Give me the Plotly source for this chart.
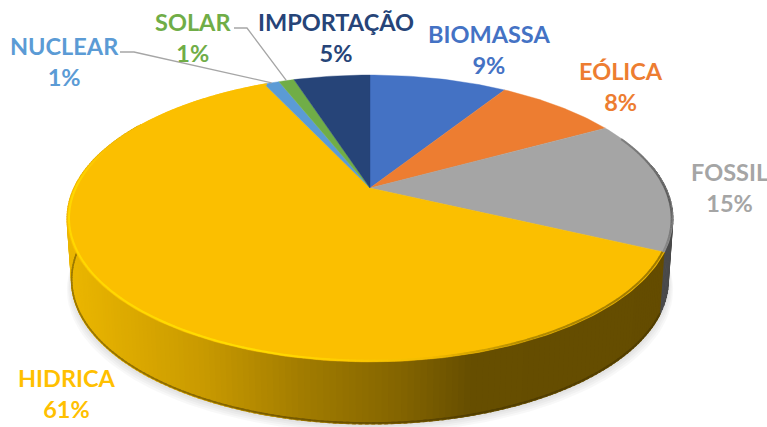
import numpy as np
import plotly.graph_objects as go

# ---- data ----
categories = ["BIOMASSA", "EÓLICA", "FOSSIL", "HIDRICA", "NUCLEAR", "SOLAR", "IMPORTAÇÃO"]
values = [9, 8, 15, 61, 1, 1, 5]
colors = ["#4472C4", "#ED7D31", "#A5A5A5", "#FBBF00", "#5B9BD5", "#70AD47", "#264478"]
label_colors = ["#4472C4", "#ED7D31", "#A5A5A5", "#FFC000", "#5B9BD5", "#70AD47", "#264478"]
label_centers = [(489, 49), (621, 86), (729, 187), (67, 393), (64, 61), (193, 37), (336, 37)]
FONT = "Lato"
FONT_SIZE = 23.5

# ---- pie geometry: a perspective projection of a disc ----
CX, CY = 370.0, 188.0
AX, DY, K = 296.0, 137.0, 0.2125
DEPTH = 62.0
BOTTOM_SCALE = 0.985


def top(theta_deg, r=1.0):
    t = np.radians(np.asarray(theta_deg, dtype=float))
    u, v = r * np.sin(t), r * np.cos(t)
    w = 1 + K * v
    return CX + AX * u / w, CY - DY * v / w


def bottom(theta_deg, extra=0.0):
    x, y = top(theta_deg)
    return CX + (x - CX) * BOTTOM_SCALE, y + DEPTH + extra


def mix(c1, c2, f):
    a = np.array([int(c1[i:i + 2], 16) for i in (1, 3, 5)], float)
    b = np.array([int(c2[i:i + 2], 16) for i in (1, 3, 5)], float)
    m = a + (b - a) * float(np.clip(f, 0, 1))
    return "#%02x%02x%02x" % tuple(int(round(n)) for n in m)


def ramp(stops, x):
    xs = [s[0] for s in stops]
    i = int(np.clip(np.searchsorted(xs, x) - 1, 0, len(stops) - 2))
    return mix(stops[i][1], stops[i + 1][1], (x - xs[i]) / (xs[i + 1] - xs[i]))


fig = go.Figure()


def poly(x, y, color, lw=1.0):
    fig.add_trace(go.Scatter(x=list(x), y=list(y), mode="lines", fill="toself", fillcolor=color,
                             line=dict(color=color, width=lw), hoverinfo="skip", showlegend=False))


def line(x, y, color, width):
    fig.add_trace(go.Scatter(x=list(x), y=list(y), mode="lines", line=dict(color=color, width=width),
                             hoverinfo="skip", showlegend=False))


edges = 360 * np.cumsum([0] + values) / sum(values)
hid_start, hid_end = edges[3], edges[4]

# soft shadow under the wall
all_t = np.linspace(0, 360, 181)
for off, sc in [(9, 1.016), (7, 1.012), (5, 1.008), (3, 1.004)]:
    bx, by = bottom(all_t, off)
    poly(CX + (bx - CX) * sc, by, "rgba(0,0,0,0.028)", 0)

# side wall, fossil part
wall_stops = [(60, "#EDB800"), (130, "#DBA900"), (200, "#C99A00"), (300, "#A27C00"),
              (400, "#836400"), (470, "#664E00"), (800, "#634B00")]
for a in np.arange(80, hid_start, 1.5):
    t = [a, a + 2.0]
    tx, ty = top(t)
    bx, by = bottom(t)
    poly(np.r_[tx, bx[::-1]], np.r_[ty, by[::-1]], "#4A4A4A")
# side wall, hidrica part
wall_angles = np.arange(hid_start, 300, 1.0)
for a in wall_angles:
    t = [a, a + 1.5]
    tx, ty = top(t)
    bx, by = bottom(t)
    c = ramp(wall_stops, float(tx.mean()))
    poly(np.r_[tx, bx[::-1]], np.r_[ty, by[::-1]], c, 1.2)
for a in wall_angles:
    t = [a, a + 1.5]
    tx = top(t)[0]
    ex, ey = bottom(t, -1)
    line(ex, ey, mix(ramp(wall_stops, float(tx.mean())), "#3A2C00", 0.45), 1.6)

# top face slices
for i, c in enumerate(colors):
    t = np.arange(edges[i], edges[i + 1] + 0.5, 1.0)
    t[-1] = edges[i + 1]
    ex, ey = top(t)
    poly(np.r_[CX, ex, CX], np.r_[CY, ey, CY], c, 0.4)

# bevel along the rim, fading out on the back half of the disc
rim_stops = [(60, "#FFD800"), (250, "#FFDD00"), (330, "#FFD000"), (430, "#F4BB00"),
             (520, "#B58D00"), (680, "#9A7600")]
for a in np.arange(hid_start, hid_end, 1.0):
    t = [a, a + 1.1]
    tx, ty = top(t, 0.994)
    c = mix(ramp(rim_stops, float(tx.mean())), colors[3], (a - 270) / 18)
    line(tx, ty, c, 2.0)
gray_stops = [(40, "#A5A5A5"), (70, "#7C7C7C"), (95, "#5A5A5A"), (116, "#909090")]
for a in np.arange(edges[2] + 6, hid_start, 1.0):
    t = [a, a + 1.1]
    tx, ty = top(t, 0.996)
    line(tx, ty, ramp(gray_stops, float(a)), 2.0)

# leader lines
for idx, start, knee in [(4, (120, 52), (134, 52)), (5, (234, 28), (247, 28))]:
    mid = (edges[idx] + edges[idx + 1]) / 2
    ex, ey = top(mid, 1.0)
    line([start[0], knee[0], float(ex)], [start[1], knee[1], float(ey)], "#A6A6A6", 1.3)

# labels
total = sum(values)
for name, val, col, (lx, ly) in zip(categories, values, label_colors, label_centers):
    fig.add_annotation(x=lx, y=ly, text=f"<b>{name}</b><br><b>{round(100 * val / total)}%</b>",
                       showarrow=False, xanchor="center", yanchor="middle", align="center",
                       font=dict(family=FONT, size=FONT_SIZE, color=col))

fig.update_layout(
    width=767, height=427, margin=dict(l=0, r=0, t=0, b=0),
    paper_bgcolor="white", plot_bgcolor="white", showlegend=False,
    xaxis=dict(range=[0, 767], visible=False, fixedrange=True),
    yaxis=dict(range=[427, 0], visible=False, fixedrange=True),
)
fig.write_html("out.html", config={"displayModeBar": False},
               post_script="document.body.style.margin='0';document.documentElement.style.overflow='hidden';")
